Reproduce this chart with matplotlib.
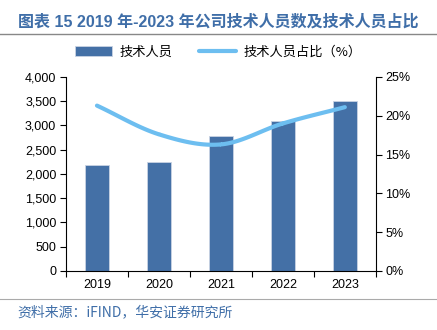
import matplotlib
matplotlib.use("Agg")
import matplotlib.pyplot as plt
import numpy as np
from matplotlib.ticker import FuncFormatter, MultipleLocator

plt.rcParams['font.family'] = ['Liberation Sans', 'Noto Sans CJK SC', 'DejaVu Sans']

years = ['2019', '2020', '2021', '2022', '2023']
staff = [2190, 2240, 2780, 3090, 3500]
ratio = [21.3, 17.6, 16.3, 19.0, 21.1]

title = '图表 15 2019 年-2023 年公司技术人员数及技术人员占比'
source = '资料来源：iFIND，华安证券研究所'
bar_label = '技术人员'
line_label = '技术人员占比（%）'

bar_color = '#4470A6'
line_color = '#6DBEF0'
text_blue = '#3F6EA8'

fig = plt.figure(figsize=(4.37, 3.30), dpi=100)
ax = fig.add_axes([0.151, 0.179, 0.709, 0.588])
x = np.arange(len(years))
bars = ax.bar(x, staff, width=0.39, color=bar_color, edgecolor='#C9D3E3', linewidth=0.6, label=bar_label, zorder=2)
ax.set_xlim(-0.5, len(years) - 0.5)
ax.set_ylim(0, 4000)
ax.yaxis.set_major_locator(MultipleLocator(500))
ax.yaxis.set_major_formatter(FuncFormatter(lambda v, p: f'{int(v):,}'))
ax.set_xticks(x)
ax.set_xticklabels(years)
ax.set_xticks(np.arange(-0.5, len(years)), minor=True)
ax.tick_params(axis='x', which='major', length=0, labelsize=9, pad=6)
ax.tick_params(axis='x', which='minor', length=4, width=0.8, direction='out')
ax.tick_params(axis='y', length=4, width=0.8, labelsize=9, pad=3)
for s in ['top', 'right']:
    ax.spines[s].set_visible(False)
ax.spines['left'].set_linewidth(0.8)
ax.spines['bottom'].set_linewidth(0.8)

ax2 = ax.twinx()
ax2.set_ylim(0, 25)
ax2.yaxis.set_major_locator(MultipleLocator(5))
ax2.yaxis.set_major_formatter(FuncFormatter(lambda v, p: f'{int(v)}%'))
ax2.tick_params(axis='y', length=4, width=0.8, labelsize=9, pad=3)
for s in ['top', 'left', 'bottom']:
    ax2.spines[s].set_visible(False)
ax2.spines['right'].set_linewidth(0.8)

# Catmull-Rom smoothing (Excel-like smoothed line)
def catmull_rom(xs, ys, n=30):
    xs = np.asarray(xs, float); ys = np.asarray(ys, float)
    px = np.concatenate([[2*xs[0]-xs[1]], xs, [2*xs[-1]-xs[-2]]])
    py = np.concatenate([[2*ys[0]-ys[1]], ys, [2*ys[-1]-ys[-2]]])
    outx, outy = [], []
    for i in range(1, len(px) - 2):
        t = np.linspace(0, 1, n)
        for arr, out in ((px, outx), (py, outy)):
            p0, p1, p2, p3 = arr[i-1], arr[i], arr[i+1], arr[i+2]
            out.extend(0.5*((2*p1) + (-p0+p2)*t + (2*p0-5*p1+4*p2-p3)*t**2 + (-p0+3*p1-3*p2+p3)*t**3))
    return np.array(outx), np.array(outy)

sx, sy = catmull_rom(x, ratio)
line, = ax2.plot(sx, sy, color=line_color, linewidth=3, solid_capstyle='round', label=line_label, zorder=3)

leg = fig.legend(handles=[bars, line], labels=[bar_label, line_label], loc='center',
                 bbox_to_anchor=(0.5, 0.842), ncol=2, frameon=False,
                 handlelength=2.8, columnspacing=2.0, handletextpad=0.6,
                 prop={'family': ['Noto Sans CJK SC'], 'size': 9.5})

fig.text(0.5, 0.933, title, ha='center', va='center', fontsize=11.5, fontweight='bold',
         color=text_blue, family=['Liberation Sans', 'Noto Sans CJK SC'])
fig.add_artist(plt.Line2D([0.0, 1.0], [0.897, 0.897], color='#888888', linewidth=1.0, transform=fig.transFigure))
fig.add_artist(plt.Line2D([0.0, 1.0], [0.094, 0.094], color='#AAAAAA', linewidth=0.8, transform=fig.transFigure))
fig.text(0.04, 0.055, source, ha='left', va='center', fontsize=10, color=text_blue,
         family=['Noto Sans CJK SC', 'Liberation Sans'])

fig.savefig('out.png', dpi=100)
